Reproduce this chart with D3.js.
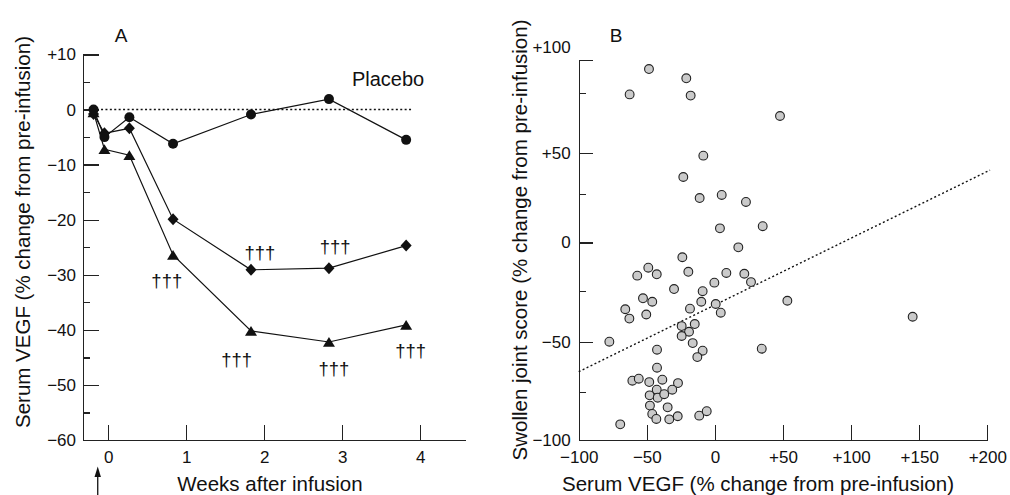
<!DOCTYPE html>
<html lang="en">
<head>
<meta charset="utf-8">
<title>Serum VEGF</title>
<style>
  body { margin: 0; background: #fff; }
  svg { display: block; font-family: "Liberation Sans", Arial, Helvetica, sans-serif; }
  svg text { fill: #111; }
  .axis path, .axis line { stroke: #222; stroke-width: 1.3; shape-rendering: crispEdges; }
  .axis text { font-size: 17px; fill: #111; }
  .series { fill: none; stroke: #111; stroke-width: 1.2; }
  .dotted { fill: none; stroke: #111; stroke-width: 1.4; stroke-dasharray: 2 2.4; }
  .pt { fill: #cacaca; stroke: #222; stroke-width: 1.1; }
  .title { font-size: 20.5px; fill: #111; }
</style>
</head>
<body>
<svg id="chart" width="1010" height="495"></svg>
<script src="https://cdn.jsdelivr.net/npm/d3@7/dist/d3.min.js"></script>
<script>
// ---- panel A data ----
var weeks = [-0.19, -0.05, 0.27, 0.83, 1.83, 2.83, 3.82];
var placebo = [0, -5.0, -1.4, -6.2, -0.9, 1.9, -5.5];
var diamondGroup = [-0.8, -4.3, -3.4, -19.9, -29.1, -28.8, -24.7];
var triangleGroup = [-0.5, -7.2, -8.3, -26.4, -40.2, -42.2, -39.1];
var daggerWeeks = [1.945, 2.91, 0.75, 1.645, 2.894, 3.878];
var daggerValues = [-26.1, -25.0, -31.3, -45.6, -47.2, -43.9];
var yTicksA = [10, 0, -10, -20, -30, -40, -50, -60];
var yMinorA = [5, -5, -15, -25, -35, -45, -55];
var xTicksA = [0, 1, 2, 3, 4];

// ---- panel B data ----
var vegfChange = [-48.4, -62.6, -21.0, -17.8, 47.8, -8.5, -23.2, -11.2, 5.0, 22.8, 3.7, 35.1, 17.2, -23.9, -48.9,
  -57.0, -42.7, -19.5, 8.4, 21.6, 26.5, -0.4, -30.0, -9.0, -52.8, -46.0, -10.0, 0.6, -65.8, -18.3, 4.3, -50.4,
  -62.8, -14.8, -24.4, -19.0, -24.4, -16.3, -77.5, -42.5, -9.0, -12.9, 34.4, -42.5, -60.6, -55.9, -48.2, -38.6,
  -27.1, -42.7, -31.3, -47.9, -42.0, -37.2, -47.7, -34.7, -46.0, -43.0, -33.5, -27.3, -11.5, -6.0, -69.5, 53.2, 145.2];
var jointChange = [93.1, 74.3, 86.0, 73.8, 65.3, 48.2, 35.3, 22.9, 24.5, 20.9, 7.3, 8.4, -2.5, -7.6, -13.0,
  -17.1, -16.4, -15.1, -15.7, -16.1, -20.4, -20.7, -24.0, -25.1, -28.6, -30.3, -30.3, -31.4, -34.0, -33.7, -35.7, -36.6,
  -38.6, -41.3, -42.3, -45.1, -47.2, -50.7, -50.0, -54.0, -54.5, -57.7, -53.5, -63.0, -69.5, -68.5, -70.2, -69.0,
  -70.7, -74.0, -74.0, -76.9, -78.1, -76.3, -82.2, -83.1, -86.5, -89.1, -89.3, -87.7, -87.4, -85.1, -91.9, -29.8, -37.7];
var fitLine = [[-100, -65], [202, 39.5]];
var xTicksB = [-100, -50, 0, 50, 100, 150, 200];
var yTicksB = [100, 50, 0, -50, -100];
var yMinorB = [75, 25, -25, -75];

function signed(d) {
  return d > 0 ? "+" + d : d < 0 ? "\u2212" + Math.abs(d) : "0";
}

var svg = d3.select("#chart");

// ================= panel A =================
var xA = d3.scaleLinear().domain([-0.325, 4.575]).range([83, 465]);
var yA = d3.scaleLinear().domain([-60, 10]).range([440, 54.5]);

var gA = svg.append("g");

gA.append("g").attr("class", "axis")
  .attr("transform", "translate(" + xA.range()[0] + ",0)")
  .call(d3.axisLeft(yA).tickValues(yTicksA).tickFormat(signed).tickSizeInner(-16).tickSizeOuter(0).tickPadding(7));
gA.append("g").attr("class", "axis")
  .attr("transform", "translate(" + xA.range()[0] + ",0)")
  .call(d3.axisLeft(yA).tickValues(yMinorA).tickFormat("").tickSizeInner(-7).tickSizeOuter(0))
  .select(".domain").remove();
gA.append("g").attr("class", "axis")
  .attr("transform", "translate(0," + yA(-60) + ")")
  .call(d3.axisBottom(xA).tickValues(xTicksA).tickFormat(d3.format("d")).tickSizeInner(-15).tickSizeOuter(0).tickPadding(10.5));

// zero reference
gA.append("line").attr("class", "dotted")
  .attr("x1", xA(-0.15)).attr("x2", xA(3.89))
  .attr("y1", yA(0)).attr("y2", yA(0));

var lineA = d3.line().x(function (d) { return xA(d[0]); }).y(function (d) { return yA(d[1]); });
function pairs(vals) { return weeks.map(function (w, i) { return [w, vals[i]]; }); }

[triangleGroup, diamondGroup, placebo].forEach(function (vals) {
  gA.append("path").attr("class", "series").attr("d", lineA(pairs(vals)));
});

gA.append("g").selectAll("path").data(pairs(triangleGroup)).join("path")
  .attr("fill", "#111")
  .attr("d", function (d) {
    var x = xA(d[0]), y = yA(d[1]);
    return "M" + x + "," + (y - 5) + "L" + (x + 6) + "," + (y + 4.8) + "L" + (x - 6) + "," + (y + 4.8) + "Z";
  });
gA.append("g").selectAll("path").data(pairs(diamondGroup)).join("path")
  .attr("fill", "#111")
  .attr("d", function (d) {
    var x = xA(d[0]), y = yA(d[1]);
    return "M" + x + "," + (y - 6) + "L" + (x + 5.5) + "," + y + "L" + x + "," + (y + 6) + "L" + (x - 5.5) + "," + y + "Z";
  });
gA.append("g").selectAll("circle").data(pairs(placebo)).join("circle")
  .attr("fill", "#111")
  .attr("cx", function (d) { return xA(d[0]); })
  .attr("cy", function (d) { return yA(d[1]); })
  .attr("r", 5);

gA.append("g").selectAll("text").data(daggerWeeks).join("text")
  .attr("x", function (d) { return xA(d); })
  .attr("y", function (d, i) { return yA(daggerValues[i]); })
  .attr("dy", "0.3em")
  .attr("text-anchor", "middle")
  .attr("font-size", 18.5)
  .attr("fill", "#111")
  .text("\u2020\u2020\u2020");

gA.append("text").attr("x", xA(3.125)).attr("y", yA(4.2))
  .attr("font-size", 20).text("Placebo");
gA.append("text").attr("x", 121).attr("y", 41.5).attr("text-anchor", "middle")
  .attr("font-size", 19).text("A");

// infusion arrow
var ax = xA(-0.136);
gA.append("line").attr("x1", ax).attr("x2", ax).attr("y1", 476).attr("y2", 495)
  .attr("stroke", "#111").attr("stroke-width", 1.3);
gA.append("path").attr("fill", "#111")
  .attr("d", "M" + ax + ",466.5L" + (ax + 3.2) + ",477L" + (ax - 3.2) + ",477Z");

gA.append("text").attr("class", "title").attr("x", 270).attr("y", 491)
  .attr("text-anchor", "middle").attr("font-size", 21).text("Weeks after infusion");
gA.append("text").attr("class", "title")
  .attr("transform", "translate(30,232) rotate(-90)")
  .attr("text-anchor", "middle").attr("font-size", 22.5)
  .text("Serum VEGF (% change from pre-infusion)");

// ================= panel B =================
var xB = d3.scaleLinear().domain([-100, 200]).range([578.7, 987.3]);
var yB = d3.scaleLinear()
  .domain([-100, -75, -50, -25, 0, 25, 50, 75, 100])
  .range([440, 391.7, 341.7, 291, 242.5, 194, 152.7, 92.7, 60]);

var gB = svg.append("g");

var yAxisB = gB.append("g").attr("class", "axis")
  .attr("transform", "translate(" + xB(-100) + ",0)")
  .call(d3.axisLeft(yB).tickValues(yTicksB).tickFormat(signed).tickSizeInner(-14).tickSizeOuter(0).tickPadding(8));
yAxisB.selectAll(".tick text").filter(function (d) { return d === 100; }).attr("dy", "-0.45em");
gB.append("g").attr("class", "axis")
  .attr("transform", "translate(" + xB(-100) + ",0)")
  .call(d3.axisLeft(yB).tickValues(yMinorB).tickFormat("").tickSizeInner(-7).tickSizeOuter(0))
  .select(".domain").remove();
gB.append("g").attr("class", "axis")
  .attr("transform", "translate(0," + yB(-100) + ")")
  .call(d3.axisBottom(xB).tickValues(xTicksB).tickFormat(signed).tickSizeInner(-15).tickSizeOuter(0).tickPadding(10.5));

var lineB = d3.line().x(function (d) { return xB(d[0]); }).y(function (d) { return yB(d[1]); });
gB.append("path").attr("class", "dotted").attr("d", lineB(fitLine));

gB.append("g").selectAll("circle").data(vegfChange).join("circle")
  .attr("class", "pt")
  .attr("cx", function (d) { return xB(d); })
  .attr("cy", function (d, i) { return yB(jointChange[i]); })
  .attr("r", 4.4);

gB.append("text").attr("x", 616).attr("y", 41.5).attr("text-anchor", "middle")
  .attr("font-size", 19).text("B");
gB.append("text").attr("class", "title").attr("x", 758).attr("y", 491)
  .attr("text-anchor", "middle").attr("font-size", 20.3)
  .text("Serum VEGF (% change from pre-infusion)");
gB.append("text").attr("class", "title")
  .attr("transform", "translate(527,240) rotate(-90)")
  .attr("text-anchor", "middle").attr("font-size", 21.5)
  .text("Swollen joint score (% change from pre-infusion)");
</script>
</body>
</html>
